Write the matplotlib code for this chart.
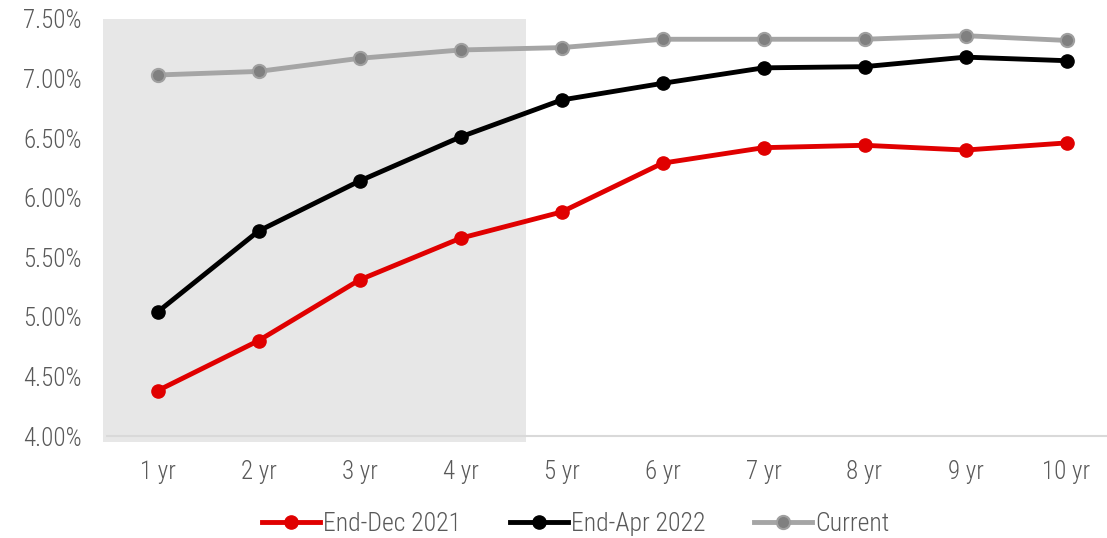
import matplotlib
matplotlib.use("Agg")
import matplotlib.pyplot as plt
from matplotlib.patches import Rectangle
from matplotlib.ticker import FuncFormatter

categories = ["1 yr", "2 yr", "3 yr", "4 yr", "5 yr", "6 yr", "7 yr", "8 yr", "9 yr", "10 yr"]
end_dec_2021 = [4.38, 4.80, 5.31, 5.66, 5.88, 6.29, 6.42, 6.44, 6.40, 6.46]
end_apr_2022 = [5.04, 5.72, 6.14, 6.51, 6.82, 6.96, 7.09, 7.10, 7.18, 7.15]
current = [7.03, 7.06, 7.17, 7.24, 7.26, 7.33, 7.33, 7.33, 7.36, 7.32]
y_ticks = [4.0, 4.5, 5.0, 5.5, 6.0, 6.5, 7.0, 7.5]

plt.rcParams['font.family'] = ['Roboto Condensed', 'DejaVu Sans']
plt.rcParams['font.weight'] = 300
text_color = '#595959'

fig = plt.figure(figsize=(11.07, 5.38), dpi=100)
ax = fig.add_axes([107/1107, 102/538, 1010/1107, 417/538])

x = list(range(len(categories)))

# shaded region
ax.add_patch(Rectangle((-0.535, 3.95), 4.185, 3.55, facecolor='#e7e7e7',
                       edgecolor='none', zorder=0, clip_on=False))

ax.plot(x, end_dec_2021, color='#e00000', lw=3.5, marker='o', ms=9.5,
        mfc='#e00000', mec='#e00000', label='End-Dec 2021', zorder=3, clip_on=False)
ax.plot(x, end_apr_2022, color='#000000', lw=3.5, marker='o', ms=9.5,
        mfc='#000000', mec='#000000', label='End-Apr 2022', zorder=3, clip_on=False)
ax.plot(x, current, color='#a5a5a5', lw=3.5, marker='o', ms=9.5,
        mfc='#808080', mec='#a0a0a0', mew=1.5, label='Current', zorder=3, clip_on=False)

ax.set_xlim(-0.5, 9.5)
ax.set_ylim(4.0, 7.5)
ax.set_xticks(x)
ax.set_xticklabels(categories)
ax.set_yticks(y_ticks)
ax.yaxis.set_major_formatter(FuncFormatter(lambda v, p: f"{v:.2f}%"))

for s in ['top', 'right', 'left']:
    ax.spines[s].set_visible(False)
ax.spines['bottom'].set_color('#d9d9d9')
ax.spines['bottom'].set_linewidth(1.5)
ax.spines['bottom'].set_zorder(1)
ax.tick_params(axis='both', length=0, labelsize=18, colors=text_color)
ax.tick_params(axis='y', pad=18)
ax.tick_params(axis='x', pad=17)
ax.set_facecolor('none')

leg = fig.legend(loc='center', bbox_to_anchor=(576/1107, 1 - 524/538), ncol=3,
                 frameon=False, fontsize=18.5, handlelength=2.25, handletextpad=0.12,
                 columnspacing=1.9, labelcolor=text_color)

fig.savefig('out.png', dpi=100)
